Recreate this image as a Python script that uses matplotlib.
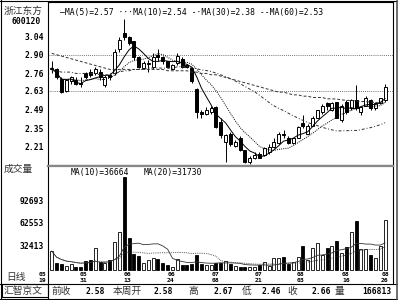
import matplotlib
matplotlib.use("Agg")
import matplotlib.pyplot as plt
from matplotlib.lines import Line2D
from matplotlib.patches import Rectangle
from matplotlib.transforms import blended_transform_factory
import numpy as np
import pandas as pd

# daily bars 600120, 2005-05-18 .. 2005-08-26
opens = [2.79, 2.79, 2.72, 2.63, 2.70, 2.71, 2.69, 2.76, 2.77, 2.76,
         2.77, 2.67, 2.75, 2.76, 2.94, 3.06, 3.03, 3.00, 2.88, 2.80,
         2.83, 2.81, 2.90, 2.88, 2.85, 2.79, 2.84, 2.87, 2.82, 2.80,
         2.64, 2.47, 2.46, 2.47, 2.51, 2.40, 2.25, 2.31, 2.22, 2.28,
         2.19, 2.10, 2.13, 2.16, 2.15, 2.17, 2.21, 2.24, 2.31, 2.28,
         2.24, 2.28, 2.39, 2.31, 2.37, 2.43, 2.47, 2.54, 2.49, 2.55,
         2.41, 2.55, 2.50, 2.56, 2.47, 2.52, 2.56, 2.50, 2.54, 2.56]
highs = [2.85, 2.80, 2.73, 2.72, 2.74, 2.73, 2.73, 2.77, 2.79, 2.81,
         2.79, 2.75, 2.76, 2.94, 3.03, 3.17, 3.04, 3.00, 2.89, 2.85,
         2.86, 2.91, 2.94, 2.89, 2.85, 2.83, 2.91, 2.88, 2.83, 2.81,
         2.65, 2.49, 2.51, 2.52, 2.52, 2.43, 2.31, 2.32, 2.26, 2.29,
         2.19, 2.14, 2.17, 2.17, 2.21, 2.23, 2.28, 2.32, 2.34, 2.29,
         2.28, 2.37, 2.45, 2.38, 2.44, 2.49, 2.53, 2.55, 2.55, 2.55,
         2.53, 2.56, 2.57, 2.67, 2.52, 2.59, 2.57, 2.55, 2.58, 2.68]
lows = [2.76, 2.72, 2.61, 2.62, 2.68, 2.67, 2.66, 2.72, 2.73, 2.75,
        2.71, 2.66, 2.71, 2.75, 2.92, 3.01, 2.97, 2.86, 2.80, 2.79,
        2.77, 2.79, 2.85, 2.83, 2.80, 2.79, 2.82, 2.80, 2.80, 2.69,
        2.43, 2.43, 2.45, 2.46, 2.35, 2.28, 2.10, 2.22, 2.21, 2.18,
        2.09, 2.08, 2.12, 2.13, 2.14, 2.16, 2.20, 2.23, 2.28, 2.23,
        2.23, 2.28, 2.35, 2.31, 2.37, 2.43, 2.46, 2.49, 2.48, 2.43,
        2.40, 2.46, 2.49, 2.49, 2.45, 2.52, 2.49, 2.49, 2.53, 2.55]
closes = [2.80, 2.73, 2.62, 2.71, 2.73, 2.68, 2.68, 2.73, 2.75, 2.79,
          2.73, 2.73, 2.73, 2.92, 3.01, 3.03, 2.99, 2.88, 2.81, 2.84,
          2.84, 2.88, 2.88, 2.85, 2.81, 2.82, 2.89, 2.81, 2.81, 2.70,
          2.47, 2.46, 2.49, 2.50, 2.36, 2.30, 2.30, 2.23, 2.25, 2.19,
          2.10, 2.13, 2.15, 2.13, 2.20, 2.21, 2.25, 2.31, 2.30, 2.24,
          2.28, 2.36, 2.37, 2.37, 2.43, 2.49, 2.52, 2.52, 2.54, 2.43,
          2.52, 2.47, 2.56, 2.50, 2.51, 2.58, 2.50, 2.54, 2.58, 2.66]
volumes = [25000, 9000, 8000, 5300, 8000, 4000, 4000, 12000, 13000, 29000,
           10000, 9000, 13000, 37500, 50700, 123600, 43000, 21000, 19000, 9000,
           13000, 16000, 14000, 9000, 7000, 4500, 14000, 7000, 7000, 8500,
           20000, 8000, 7000, 6000, 9000, 9000, 12000, 8000, 5000, 4000,
           4000, 4000, 4000, 6000, 11000, 5000, 16000, 16000, 17700, 8000,
           10000, 17700, 31800, 13000, 29000, 36000, 20000, 29000, 31800, 38400,
           22500, 30500, 50800, 65000, 27800, 27800, 20000, 16000, 31800, 66000]

# long averages before enough history is on screen
ma30_head = [2.78, 2.78, 2.77, 2.77, 2.77, 2.76, 2.76, 2.76, 2.76, 2.76,
             2.75, 2.75, 2.75, 2.76, 2.77, 2.78, 2.78, 2.79, 2.79, 2.79,
             2.80, 2.80, 2.80, 2.80, 2.80, 2.80, 2.81, 2.81, 2.81]
ma60_head = [2.91, 2.90, 2.89, 2.88, 2.87, 2.86, 2.85, 2.84, 2.83, 2.82,
             2.81, 2.80, 2.79, 2.79, 2.79, 2.79, 2.79, 2.79, 2.79, 2.79,
             2.79, 2.79, 2.79, 2.79, 2.78, 2.78, 2.78, 2.78, 2.78, 2.77,
             2.77, 2.76, 2.76, 2.75, 2.75, 2.74, 2.73, 2.72, 2.71, 2.70,
             2.69, 2.68, 2.67, 2.66, 2.65, 2.64, 2.63, 2.62, 2.62, 2.61,
             2.60, 2.60, 2.59, 2.59, 2.58, 2.58, 2.58, 2.57, 2.57]

price_ticks = [3.04, 2.90, 2.76, 2.63, 2.49, 2.35, 2.21]
vol_ticks = [92693, 62553, 32413]
date_months = ["05", "05", "06", "06", "07", "07", "08", "08", "08"]
date_days = ["19", "31", "13", "24", "08", "21", "03", "16", "26"]

W, H = 400, 300
CJK = ["Noto Sans CJK SC", "DejaVu Sans"]
MONO = "DejaVu Sans Mono"


def box(x0, y0, x1, y1):
    return [x0 / W, 1 - y1 / H, (x1 - x0) / W, (y1 - y0) / H]


def fx(px):
    return px / W


def fy(py):
    return 1 - py / H


o = np.array(opens)
c = np.array(closes)
hi = np.array(highs)
lo = np.array(lows)
vol = np.array(volumes)
idx = np.arange(len(c))
up = c >= o

cs = pd.Series(c)
ma5 = cs.rolling(5, min_periods=1).mean()
ma10 = cs.rolling(10, min_periods=1).mean()
ma30 = cs.rolling(30).mean()
ma30[:len(ma30_head)] = ma30_head
ma60 = cs.rolling(60).mean()
ma60[:len(ma60_head)] = ma60_head
vs = pd.Series(vol, dtype=float)
vma10 = vs.rolling(10, min_periods=1).mean()
vma20 = vs.rolling(20, min_periods=1).mean()

fig = plt.figure(figsize=(4, 3), dpi=100)
fig.patch.set_facecolor("white")

ax = fig.add_axes(box(48, 2, 393, 166))
axv = fig.add_axes(box(48, 166, 393, 284), sharex=ax)

# price panel
ax.vlines(idx, lo, hi, color="black", lw=0.7, zorder=2)
body_lo = np.minimum(o, c)
body_h = np.maximum(np.abs(c - o), 0.006)
ax.bar(idx[up], body_h[up], bottom=body_lo[up], width=0.62,
       facecolor="white", edgecolor="black", lw=0.7, zorder=3)
ax.bar(idx[~up], body_h[~up], bottom=body_lo[~up], width=0.62,
       facecolor="black", edgecolor="black", lw=0.7, zorder=3)
ax.plot(idx, ma5, color="black", lw=0.7, zorder=4)
ax.plot(idx, ma10, color="black", lw=0.7, ls=(0, (1, 1.2)), zorder=4)
ax.plot(idx, ma30, color="#333333", lw=0.7, ls=(0, (3, 2, 1, 2)), zorder=4)
ax.plot(idx, ma60, color="#333333", lw=0.7, ls=(0, (3, 2)), zorder=4)
for p in (price_ticks[1], price_ticks[3]):
    ax.axhline(p, color="#444444", lw=0.6, ls=(0, (1, 1.5)), zorder=1)

ax.set_xlim(-0.77, 70.65)
ax.set_ylim(3.04 - 130 / 133.7, 3.04 + 34 / 133.7)
ax.set_yticks(price_ticks, ["%.2f" % p for p in price_ticks])
ax.tick_params(axis="y", length=0, pad=3, labelsize=5.8)
ax.tick_params(axis="x", length=0, labelbottom=False)
for lab in ax.get_yticklabels():
    lab.set_fontfamily(MONO)
    lab.set_fontweight("bold")
for s in ax.spines.values():
    s.set_linewidth(0.8)
ax.spines["bottom"].set_color("#888888")
ax.spines["bottom"].set_linewidth(1.6)

# volume panel
axv.bar(idx[up], vol[up], width=0.62, facecolor="white",
        edgecolor="black", lw=0.6, zorder=3)
axv.bar(idx[~up], vol[~up], width=0.62, facecolor="black",
        edgecolor="black", lw=0.6, zorder=3)
axv.plot(idx, vma10, color="#333333", lw=0.6, zorder=4)
axv.plot(idx, vma20, color="#333333", lw=0.6, ls=(0, (1, 1.2)), zorder=4)
axv.set_ylim(-14 * 1325, 104 * 1325)
axv.set_yticks(vol_ticks, [str(v) for v in vol_ticks])
axv.tick_params(axis="y", length=0, pad=3, labelsize=5.8)
axv.tick_params(axis="x", length=0, labelbottom=False)
for lab in axv.get_yticklabels():
    lab.set_fontfamily(MONO)
    lab.set_fontweight("bold")
for s in axv.spines.values():
    s.set_linewidth(0.8)
axv.spines["top"].set_color("#888888")
axv.spines["top"].set_linewidth(1.6)
axv.spines["bottom"].set_visible(False)

# date labels: month above day, under the bars
tr = blended_transform_factory(axv.transData, fig.transFigure)
date_pos = [-2.0, 6.5, 15.6, 24.7, 34.0, 42.9, 51.6, 60.9, 69.0]
for pos, m, d in zip(date_pos, date_months, date_days):
    axv.text(pos, fy(274.5), m, transform=tr, ha="center", va="center",
             fontsize=4.6, family=MONO, fontweight="bold", clip_on=False)
    axv.text(pos, fy(280), d, transform=tr, ha="center", va="center",
             fontsize=4.6, family=MONO, fontweight="bold", clip_on=False)

# texts in the left column and the legends
fig.text(fx(4), fy(11), "浙江东方", family=CJK, fontsize=7,
         color="#333333", va="center")
fig.text(fx(26), fy(22), "600120", family=MONO, fontsize=5.8,
         fontweight="bold", ha="center", va="center")
fig.text(fx(60), fy(13), "—MA(5)=2.57 ···MA(10)=2.54 -·MA(30)=2.38 --MA(60)=2.53",
         family=MONO, fontsize=5.8, va="center")
fig.text(fx(4), fy(169), "成交量", family=CJK, fontsize=7,
         color="#333333", va="center")
fig.text(fx(71), fy(173), "MA(10)=36664", family=MONO, fontsize=5.8, va="center")
fig.text(fx(144), fy(173), "MA(20)=31730", family=MONO, fontsize=5.8, va="center")
fig.text(fx(6), fy(277), "日线", family=CJK, fontsize=7,
         color="#333333", va="center")

# bottom status bar
status = [(4, "汇智京文", True), (52, "前收", True), (86, "2.58", False),
          (113, "本周开", True), (153, "2.58", False), (188, "高", True),
          (213, "2.67", False), (242, "低", True), (262, "2.46", False),
          (287, "收", True), (312, "2.66", False), (335, "量", True),
          (362, "166813", False)]
for x, s, cjk in status:
    if cjk:
        fig.text(fx(x), fy(291), s, family=CJK, fontsize=7,
                 color="#333333", va="center")
    else:
        fig.text(fx(x), fy(291.5), s, family=MONO, fontsize=5.8,
                 fontweight="bold", va="center")

fig.add_artist(Rectangle((fx(2), fy(297)), fx(46), 13 / H, transform=fig.transFigure,
                         fill=False, edgecolor="black", lw=0.8))
for y in (284, 298.5):
    fig.add_artist(Line2D([fx(0), fx(397)], [fy(y), fy(y)], color="black", lw=0.8))
fig.add_artist(Line2D([fx(48), fx(48)], [fy(284), fy(298)], color="black", lw=0.8))
fig.add_artist(Line2D([fx(0.5), fx(0.5)], [fy(0), fy(298.5)], color="black", lw=0.8))
fig.add_artist(Line2D([fx(0), fx(397)], [fy(0.8), fy(0.8)], color="black", lw=0.8))
fig.add_artist(Line2D([fx(397), fx(397)], [fy(0.5), fy(298.5)], color="#555555", lw=1.2))

fig.savefig("out.png", dpi=100)
